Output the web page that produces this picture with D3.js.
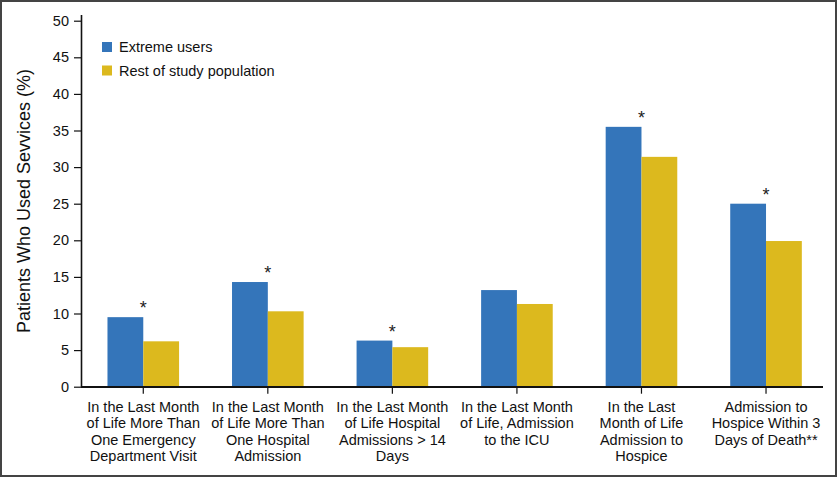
<!DOCTYPE html>
<html><head><meta charset="utf-8">
<script src="https://cdn.jsdelivr.net/npm/d3@7"></script>
<style>body{margin:0;background:#fff}svg{display:block;font-family:"Liberation Sans",Arial,sans-serif}</style>
</head><body>
<script>
const categories = [
  ["In the Last Month","of Life More Than","One Emergency","Department Visit"],
  ["In the Last Month","of Life More Than","One Hospital","Admission"],
  ["In the Last Month","of Life Hospital","Admissions > 14","Days"],
  ["In the Last Month","of Life, Admission","to the ICU"],
  ["In the Last","Month of Life","Admission to","Hospice"],
  ["Admission to","Hospice Within 3","Days of Death**"]
];
const seriesNames = ["Extreme users", "Rest of study population"];
const extremeUsers = [9.5, 14.3, 6.3, 13.2, 35.5, 25.0];
const restOfPopulation = [6.2, 10.3, 5.4, 11.3, 31.4, 19.9];
const significant = [true, true, true, false, true, true];
const yTicks = [0, 5, 10, 15, 20, 25, 30, 35, 40, 45, 50];
const colors = ["#3475BA", "#DCB91E"];

const W = 837, H = 477;
const svg = d3.select("body").append("svg").attr("width", W).attr("height", H);

// frame
svg.append("rect").attr("x", 1).attr("y", 1).attr("width", W - 2).attr("height", H - 2)
  .attr("fill", "none").attr("stroke", "#444").attr("stroke-width", 2);

const x0 = 81, yBase = 386.7;
const y = d3.scaleLinear().domain([0, 50]).range([yBase, 20.7]);
const x = d3.scaleBand().domain(d3.range(categories.length)).range([x0, 828.3]);
const barW = 35.8;

// bars
const g = svg.append("g");
categories.forEach((c, i) => {
  const cx = x(i) + x.bandwidth() / 2;
  [extremeUsers[i], restOfPopulation[i]].forEach((v, s) => {
    g.append("rect")
      .attr("x", s === 0 ? cx - barW : cx)
      .attr("y", y(v)).attr("width", barW).attr("height", yBase - y(v))
      .attr("fill", colors[s]);
  });
  if (significant[i]) {
    g.append("text").attr("x", cx).attr("y", y(extremeUsers[i]) - 3)
      .attr("text-anchor", "middle").attr("font-size", 18).attr("fill", "#222").text("*");
  }
});

// y axis
const ya = svg.append("g").attr("transform", `translate(${x0},0)`)
  .call(d3.axisLeft(y).tickValues(yTicks).tickSize(7).tickPadding(5).tickSizeOuter(0));
ya.select(".domain").remove();
ya.selectAll("line").attr("stroke", "#111").attr("stroke-width", 1.2);
ya.selectAll("text").attr("font-size", 14.5).attr("fill", "#111")
  .attr("font-family", "Liberation Sans, Arial, sans-serif");
svg.append("line").attr("x1", x0 + 0.5).attr("x2", x0 + 0.5).attr("y1", 15).attr("y2", yBase + 0.5)
  .attr("stroke", "#111").attr("stroke-width", 1.6);

// x axis
svg.append("line").attr("x1", x0).attr("x2", 823).attr("y1", yBase + 0.3).attr("y2", yBase + 0.3)
  .attr("stroke", "#111").attr("stroke-width", 1.8);
categories.forEach((c, i) => {
  const cx = x(i) + x.bandwidth() / 2;
  svg.append("line").attr("x1", cx).attr("x2", cx).attr("y1", yBase).attr("y2", yBase + 7)
    .attr("stroke", "#111").attr("stroke-width", 1.2);
  const t = svg.append("text").attr("text-anchor", "middle").attr("font-size", 14.5)
    .attr("fill", "#111");
  c.forEach((line, k) => {
    t.append("tspan").attr("x", cx).attr("y", 411.8 + k * 16.4).text(line);
  });
});

// y title
svg.append("text").attr("transform", `translate(29.5,201) rotate(-90)`)
  .attr("text-anchor", "middle").attr("font-size", 18).attr("fill", "#111")
  .text("Patients Who Used Sevvices (%)");

// legend
seriesNames.forEach((n, i) => {
  const ly = 42 + i * 23.5;
  svg.append("rect").attr("x", 102).attr("y", ly).attr("width", 10).attr("height", 10).attr("fill", colors[i]);
  svg.append("text").attr("x", 119).attr("y", ly + 10).attr("font-size", 14.5).attr("fill", "#111").text(n);
});
</script>
</body></html>
